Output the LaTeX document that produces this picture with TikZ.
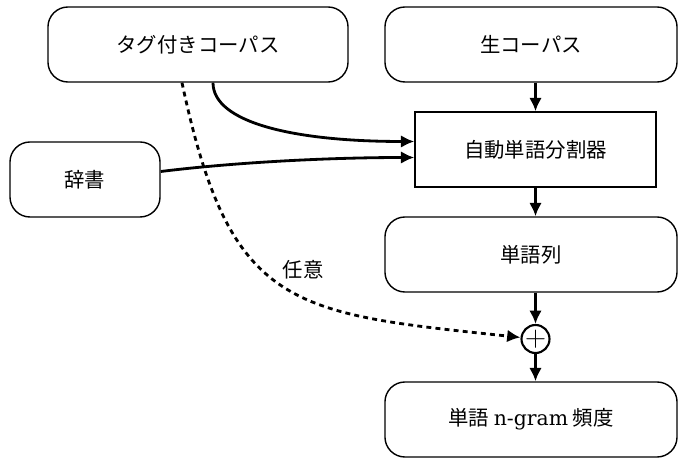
\documentclass[tikz,border=0pt]{standalone}
\usepackage{fontspec}
\newfontfamily\jp{Noto Sans CJK JP}
\newfontfamily\lat{DejaVu Serif}
\usetikzlibrary{arrows.meta}

\begin{document}
\begin{tikzpicture}[x=0.025cm, y=0.025cm,
        box/.style={draw, line width=1pt, rounded corners=0.5cm, minimum width=7.3cm, minimum height=1.875cm, font=\fontsize{14.5}{17}\selectfont\jp},
        sbox/.style={box, rounded corners=0pt, minimum width=6.025cm},
        sum/.style={draw, circle, line width=1.5pt, minimum size=0.7cm, inner sep=0pt, font=\fontsize{20}{20}\selectfont},
        lbl/.style={font=\fontsize{14.5}{17}\selectfont\jp},
        arr/.style={line width=2pt, -{Latex[length=9.5pt, width=9pt]}},
        opt/.style={arr, dash pattern=on 3.5pt off 3pt}]
        \useasboundingbox (0,0) rectangle (678,460);

        \node[box, minimum width=7.5cm] (tag) at (198,415.5) {タグ付きコーパス};
        \node[box] (raw) at (531,415.5) {生コーパス};
        \node[sbox] (seg) at (535.5,310.5) {自動単語分割器};
        \node[box, minimum width=3.75cm] (dic) at (85,280.5) {辞書};
        \node[box] (seq) at (531,205.5) {単語列};
        \node[sum] (plus) at (535.5,121) {$+$};
        \node[box] (freq) at (531,40.5) {単語 {\lat n-gram} 頻度};
        \node[lbl] (any) at (303,190) {任意};

        \coordinate (tagout) at ([xshift=0.375cm]tag.south);
        \coordinate (optout) at ([xshift=-0.4cm]tag.south);

        \draw[arr] (raw.south -| seg.north) -- (seg.north);
        \draw[arr] (seg) -- (seg |- seq.north);
        \draw[arr] (seq.south -| plus) -- (plus);
        \draw[arr] (plus) -- (plus |- freq.north);
        \draw[arr] (tagout) to[out=-90, in=180, out distance=1cm, in distance=3cm] ([yshift=0.2cm]seg.west);
        \draw[arr] ([yshift=0.2cm]dic.east) to[out=7, in=180, out distance=2cm, in distance=2cm] ([yshift=-0.2cm]seg.west);
        \draw[opt] (optout) to[out=-78, in=174, looseness=1.4] (plus);
    \end{tikzpicture}
\end{document}
